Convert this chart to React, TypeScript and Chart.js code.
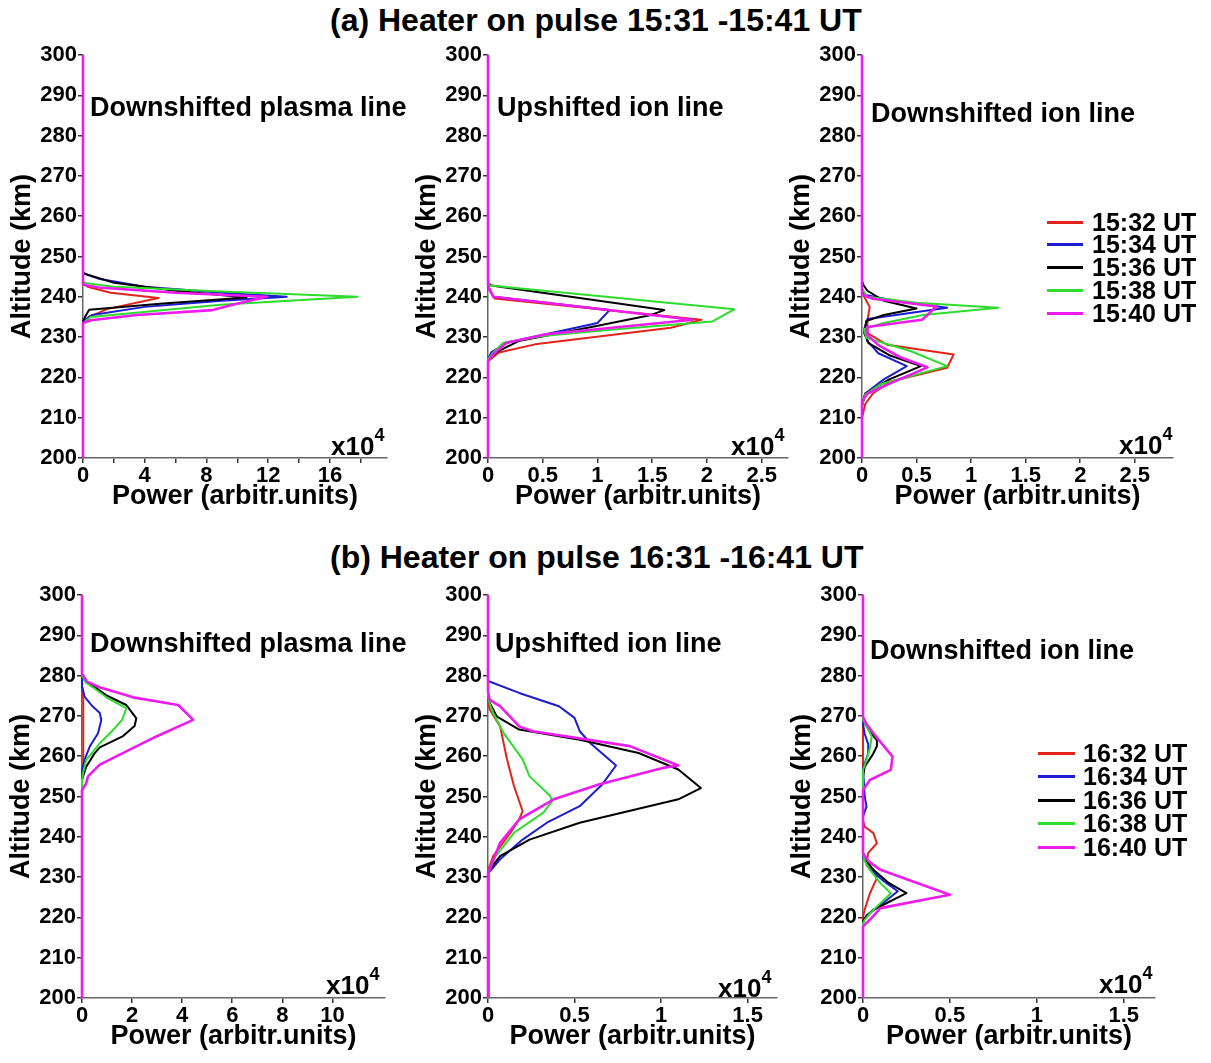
import React, { useEffect, useRef } from 'react';
import { Chart, registerables } from 'chart.js';

Chart.register(...registerables);

const FONT = "'Liberation Sans', Arial, Helvetica, sans-serif";

// ---------- labels / colours ----------
const HEADING_A = '(a) Heater on pulse 15:31 -15:41 UT';
const HEADING_B = '(b) Heater on pulse 16:31 -16:41 UT';
const TITLE_DPL = 'Downshifted plasma line';
const TITLE_UIL = 'Upshifted ion line';
const TITLE_DIL = 'Downshifted ion line';
const Y_TITLE = 'Altitude (km)';
const X_TITLE = 'Power (arbitr.units)';

const LABELS_A = ['15:32 UT', '15:34 UT', '15:36 UT', '15:38 UT', '15:40 UT'];
const LABELS_B = ['16:32 UT', '16:34 UT', '16:36 UT', '16:38 UT', '16:40 UT'];
const COLORS = ['#e2231a', '#1c1cd2', '#000000', '#2edc2e', '#ee1bee'];
const WIDTHS = [2, 2, 2, 2, 2.6];
const ORDERS = [4, 3, 2, 1, 0];

// ---------- axis ticks ----------
const ALT_MIN = 200;
const ALT_MAX = 300;
const ALT_STEP = 10;

const X_TICKS_A1 = [0, 2, 4, 6, 8, 10, 12, 14, 16, 18];
const X_LABELS_A1 = [0, 4, 8, 12, 16];
const X_TICKS_A2 = [0, 0.5, 1, 1.5, 2, 2.5];
const X_TICKS_A3 = [0, 0.5, 1, 1.5, 2, 2.5];
const X_TICKS_B1 = [0, 2, 4, 6, 8, 10];
const X_TICKS_B2 = [0, 0.5, 1, 1.5];
const X_TICKS_B3 = [0, 0.5, 1, 1.5];

const X_MAX_A1 = 19.7;
const X_MAX_A2 = 2.74;
const X_MAX_A3 = 2.85;
const X_MAX_B1 = 12.1;
const X_MAX_B2 = 1.67;
const X_MAX_B3 = 1.68;

// ---------- data: [altitude km, power x10^4] ----------
// (a) Downshifted plasma line
const a_dpl_1532: [number, number][] = [[200, 0], [233.5, 0], [235, 0.4], [237, 1.6], [239.7, 4.9], [241, 1.8], [242.5, 0.3], [243.5, 0], [300, 0]];
const a_dpl_1534: [number, number][] = [[200, 0], [234, 0], [235.5, 0.6], [237.5, 4], [239, 9], [240, 13.2], [241, 9], [242.5, 4], [244.5, 1], [245.8, 0], [300, 0]];
const a_dpl_1536: [number, number][] = [[200, 0], [234, 0], [235.5, 0.2], [236.8, 0.4], [238.3, 5], [239.8, 10.6], [241.5, 6], [243.5, 2], [245.5, 0.3], [246, 0], [300, 0]];
const a_dpl_1538: [number, number][] = [[200, 0], [233.5, 0], [235, 0.5], [238, 8.9], [240, 17.8], [241.3, 9], [242.5, 2], [243.5, 0], [300, 0]];
const a_dpl_1540: [number, number][] = [[200, 0], [233.5, 0], [234.2, 0.5], [235.5, 3.5], [236.7, 8.4], [238, 9.7], [240, 11.9], [241, 6], [242.3, 1], [243, 0], [300, 0]];

// (a) Upshifted ion line
const a_uil_1532: [number, number][] = [[200, 0], [224, 0], [226.2, 0.1], [228.2, 0.43], [232.3, 1.67], [234.3, 1.95], [239.6, 0.06], [241.5, 0.02], [243, 0], [300, 0]];
const a_uil_1534: [number, number][] = [[200, 0], [224.5, 0], [226.2, 0.03], [228.6, 0.17], [231, 0.58], [233.5, 1.0], [236.7, 1.11], [240, 0.05], [242.5, 0], [300, 0]];
const a_uil_1536: [number, number][] = [[200, 0], [224, 0], [225, 0.02], [226.6, 0.1], [229, 0.28], [232.7, 0.98], [235.5, 1.49], [236.7, 1.61], [242.8, 0.03], [243.5, 0], [300, 0]];
const a_uil_1538: [number, number][] = [[200, 0], [224.5, 0], [226.2, 0.05], [228.6, 0.14], [230.3, 0.5], [232, 1.2], [233.9, 2.05], [236.9, 2.25], [242.8, 0.02], [243.5, 0], [300, 0]];
const a_uil_1540: [number, number][] = [[200, 0], [224, 0], [225.8, 0.05], [228.6, 0.17], [230.7, 0.53], [234.3, 1.87], [240, 0.05], [242, 0.01], [243, 0], [300, 0]];

// (a) Downshifted ion line
const a_dil_1532: [number, number][] = [[200, 0], [210, 0], [213.4, 0.03], [216, 0.1], [219, 0.26], [222.4, 0.78], [225.7, 0.84], [228.1, 0.23], [231, 0.05], [234, 0.05], [237.5, 0.07], [240, 0.02], [242, 0], [300, 0]];
const a_dil_1534: [number, number][] = [[200, 0], [213, 0], [216, 0.03], [219.5, 0.2], [222.8, 0.41], [226, 0.15], [229, 0.05], [232, 0.02], [234.5, 0.05], [237.3, 0.78], [239, 0.3], [240.5, 0.02], [242, 0], [300, 0]];
const a_dil_1536: [number, number][] = [[200, 0], [213, 0], [216, 0.03], [219.5, 0.25], [222.8, 0.54], [225.5, 0.25], [228.5, 0.06], [231, 0.02], [234, 0.04], [235.5, 0.2], [237.1, 0.5], [239, 0.2], [241.5, 0.05], [243, 0.01], [244, 0], [300, 0]];
const a_dil_1538: [number, number][] = [[200, 0], [213, 0], [215.8, 0.03], [218.3, 0.17], [222.8, 0.78], [226.5, 0.45], [229.8, 0.04], [232, 0.02], [233.5, 0.2], [235.5, 0.56], [237.3, 1.25], [238.5, 0.5], [240, 0.05], [242, 0], [300, 0]];
const a_dil_1540: [number, number][] = [[200, 0], [214, 0], [216, 0.05], [219, 0.3], [222.5, 0.6], [225, 0.35], [228, 0.15], [230.5, 0.05], [232.5, 0.05], [234.3, 0.55], [235.5, 0.6], [237.6, 0.68], [239.5, 0.1], [240.5, 0], [300, 0]];

// (b) Downshifted plasma line
const b_dpl_1632: [number, number][] = [[200, 0], [257, 0], [258.5, 0.05], [274, 0.05], [276, 0], [300, 0]];
const b_dpl_1634: [number, number][] = [[200, 0], [256, 0], [257.4, 0.04], [259.1, 0.1], [262.4, 0.31], [265.7, 0.64], [269, 0.77], [270.7, 0.71], [272.5, 0.4], [274.8, 0.1], [277, 0.02], [280, 0], [300, 0]];
const b_dpl_1636: [number, number][] = [[200, 0], [254, 0], [255, 0.04], [257.4, 0.17], [260.7, 0.5], [262.2, 0.71], [265, 1.64], [267.5, 2.1], [269.4, 2.17], [272.7, 1.77], [275, 1.0], [277.2, 0.5], [278.5, 0.15], [280, 0], [300, 0]];
const b_dpl_1638: [number, number][] = [[200, 0], [254, 0], [255.8, 0.04], [259.1, 0.17], [263.2, 0.71], [266.5, 1.24], [269, 1.6], [271.9, 1.77], [274.5, 1.0], [276.8, 0.5], [278.3, 0.15], [280, 0], [300, 0]];
const b_dpl_1640: [number, number][] = [[200, 0], [251.5, 0], [253.3, 0.17], [255, 0.24], [257.9, 0.71], [261.2, 1.77], [264.9, 2.97], [269, 4.44], [272.7, 3.84], [274.6, 2.04], [277.1, 0.7], [278.5, 0.2], [280.5, 0], [300, 0]];

// (b) Upshifted ion line
const b_uil_1632: [number, number][] = [[200, 0], [231, 0], [231.9, 0.005], [235.2, 0.03], [241, 0.13], [244.3, 0.18], [246.4, 0.2], [252.6, 0.15], [259.2, 0.11], [267.4, 0.07], [271.6, 0.01], [274, 0], [300, 0]];
const b_uil_1634: [number, number][] = [[200, 0], [230.5, 0], [231, 0.005], [234.4, 0.07], [239.3, 0.2], [243.5, 0.34], [247.6, 0.53], [253, 0.66], [257.7, 0.74], [263.3, 0.59], [266.2, 0.53], [269.5, 0.5], [272.4, 0.41], [275.7, 0.18], [278.6, 0.004], [279.5, 0], [300, 0]];
const b_uil_1636: [number, number][] = [[200, 0], [231, 0], [231.9, 0.01], [235.2, 0.07], [239.3, 0.24], [243.5, 0.53], [249.3, 1.1], [252.1, 1.23], [256.7, 1.1], [260.8, 0.87], [264.1, 0.53], [266.6, 0.18], [269.9, 0.05], [273.2, 0.01], [275, 0], [300, 0]];
const b_uil_1638: [number, number][] = [[200, 0], [230.5, 0], [231, 0.005], [234.4, 0.03], [241, 0.15], [246, 0.32], [248.8, 0.37], [250.1, 0.36], [255, 0.24], [259.2, 0.2], [265.8, 0.09], [270.7, 0.03], [273, 0.01], [275, 0], [300, 0]];
const b_uil_1640: [number, number][] = [[200, 0], [231, 0], [231.9, 0.01], [238.5, 0.07], [244.3, 0.18], [249.3, 0.38], [253, 0.64], [257.1, 1.01], [257.7, 1.1], [262.5, 0.82], [266.2, 0.26], [267.4, 0.18], [272.4, 0.07], [274, 0.01], [276, 0], [300, 0]];

// (b) Downshifted ion line
const b_dil_1632: [number, number][] = [[200, 0], [220, 0], [222, 0.01], [226, 0.04], [229.8, 0.08], [233, 0.02], [236, 0.03], [238.4, 0.08], [240.9, 0.06], [242.5, 0.01], [244, 0], [300, 0]];
const b_dil_1634: [number, number][] = [[200, 0], [219, 0], [220.5, 0.02], [223, 0.1], [226.5, 0.2], [229, 0.12], [232, 0.04], [235, 0], [245, 0], [247.5, 0.02], [250, 0.01], [257, 0], [260.7, 0.03], [263, 0.03], [265.5, 0.01], [268, 0], [300, 0]];
const b_dil_1636: [number, number][] = [[200, 0], [219, 0], [219.8, 0.01], [221.9, 0.06], [226, 0.25], [228.5, 0.15], [231.8, 0.06], [234, 0.02], [236, 0], [255, 0], [257.4, 0.01], [260.7, 0.06], [262.5, 0.08], [264, 0.08], [266, 0.04], [269, 0], [300, 0]];
const b_dil_1638: [number, number][] = [[200, 0], [218.5, 0], [219.4, 0.01], [221, 0.04], [226, 0.16], [228.5, 0.1], [231.8, 0.04], [234, 0.01], [236, 0], [256.5, 0], [259.1, 0.02], [262, 0.04], [264.9, 0.05], [267.5, 0.02], [269, 0], [300, 0]];
const b_dil_1640: [number, number][] = [[200, 0], [217.8, 0], [219.4, 0.04], [222.3, 0.1], [225.6, 0.5], [231.8, 0.1], [234, 0.03], [235.9, 0], [251.6, 0], [254.1, 0.04], [256.6, 0.16], [259.9, 0.17], [262.5, 0.12], [265.7, 0.06], [268, 0.02], [269.8, 0], [300, 0]];

// ---------- layout ----------
const Y_AXIS_W = 82;
const X_AXIS_H = 58;
const PAD_TOP = 20;
const PAD_RIGHT = 10;
const PLOT_H = 403;

type PanelCfg = {
  plotLeft: number;
  plotTop: number;
  plotW: number;
  xMax: number;
  xTicks: number[];
  xLabels: number[];
  series: [number, number][][];
  labels: string[];
};

const fmt = (v: number) => String(Math.round(v * 100) / 100);

function Panel({ cfg }: { cfg: PanelCfg }) {
  const ref = useRef<HTMLCanvasElement | null>(null);
  const width = Y_AXIS_W + cfg.plotW + PAD_RIGHT;
  const height = PAD_TOP + PLOT_H + X_AXIS_H;
  useEffect(() => {
    if (!ref.current) return;
    const tickFont = { family: FONT, size: 22, weight: 'bold' as const };
    const titleFont = { family: FONT, size: 27, weight: 'bold' as const, lineHeight: 1.2 };
    const chart = new Chart(ref.current, {
      type: 'scatter',
      data: {
        datasets: cfg.series.map((s, i) => ({
          label: cfg.labels[i],
          data: s.map(([alt, p]) => ({ x: p, y: alt })),
          showLine: true,
          borderColor: COLORS[i],
          backgroundColor: COLORS[i],
          borderWidth: WIDTHS[i],
          borderJoinStyle: 'round' as const,
          pointRadius: 0,
          pointHoverRadius: 0,
          tension: 0,
          clip: false as any,
          order: ORDERS[i],
        })),
      },
      options: {
        responsive: false,
        animation: false,
        devicePixelRatio: 1,
        events: [],
        layout: { padding: { top: PAD_TOP, right: PAD_RIGHT, left: 0, bottom: 0 } },
        plugins: { legend: { display: false }, tooltip: { enabled: false }, title: { display: false } },
        scales: {
          x: {
            type: 'linear',
            min: 0,
            max: cfg.xMax,
            afterBuildTicks: (scale: any) => {
              scale.ticks = cfg.xTicks.map((v) => ({ value: v }));
            },
            afterFit: (scale: any) => {
              scale.height = X_AXIS_H;
            },
            ticks: {
              autoSkip: false,
              maxRotation: 0,
              minRotation: 0,
              padding: 0,
              color: '#000',
              font: tickFont,
              callback: (v: any) => (cfg.xLabels.some((l) => Math.abs(l - Number(v)) < 1e-9) ? fmt(Number(v)) : ''),
            },
            grid: { drawOnChartArea: false, drawTicks: true, tickLength: 5, color: '#333', lineWidth: 1.5 },
            border: { display: true, color: '#666', width: 1.5 },
            title: { display: true, text: X_TITLE, color: '#000', font: titleFont, padding: { top: 0, bottom: 3 } },
          },
          y: {
            type: 'linear',
            min: ALT_MIN,
            max: ALT_MAX,
            afterFit: (scale: any) => {
              scale.width = Y_AXIS_W;
            },
            ticks: { stepSize: ALT_STEP, padding: 1, color: '#000', font: tickFont, autoSkip: false },
            grid: { drawOnChartArea: false, drawTicks: true, tickLength: 5, color: '#333', lineWidth: 1.5 },
            border: { display: true, color: '#666', width: 1.5 },
            title: { display: true, text: Y_TITLE, color: '#000', font: titleFont, padding: { top: 5, bottom: 0 } },
          },
        },
      },
    } as any);
    return () => chart.destroy();
  }, [cfg]);
  return (
    <canvas
      ref={ref}
      width={width}
      height={height}
      style={{ position: 'absolute', left: cfg.plotLeft - Y_AXIS_W, top: cfg.plotTop - PAD_TOP, width, height }}
    />
  );
}

const PANELS: PanelCfg[] = [
  { plotLeft: 83, plotTop: 55, plotW: 304, xMax: X_MAX_A1, xTicks: X_TICKS_A1, xLabels: X_LABELS_A1, series: [a_dpl_1532, a_dpl_1534, a_dpl_1536, a_dpl_1538, a_dpl_1540], labels: LABELS_A },
  { plotLeft: 488, plotTop: 55, plotW: 300, xMax: X_MAX_A2, xTicks: X_TICKS_A2, xLabels: X_TICKS_A2, series: [a_uil_1532, a_uil_1534, a_uil_1536, a_uil_1538, a_uil_1540], labels: LABELS_A },
  { plotLeft: 862, plotTop: 55, plotW: 311, xMax: X_MAX_A3, xTicks: X_TICKS_A3, xLabels: X_TICKS_A3, series: [a_dil_1532, a_dil_1534, a_dil_1536, a_dil_1538, a_dil_1540], labels: LABELS_A },
  { plotLeft: 82, plotTop: 595, plotW: 303, xMax: X_MAX_B1, xTicks: X_TICKS_B1, xLabels: X_TICKS_B1, series: [b_dpl_1632, b_dpl_1634, b_dpl_1636, b_dpl_1638, b_dpl_1640], labels: LABELS_B },
  { plotLeft: 488, plotTop: 595, plotW: 289, xMax: X_MAX_B2, xTicks: X_TICKS_B2, xLabels: X_TICKS_B2, series: [b_uil_1632, b_uil_1634, b_uil_1636, b_uil_1638, b_uil_1640], labels: LABELS_B },
  { plotLeft: 863, plotTop: 595, plotW: 292, xMax: X_MAX_B3, xTicks: X_TICKS_B3, xLabels: X_TICKS_B3, series: [b_dil_1632, b_dil_1634, b_dil_1636, b_dil_1638, b_dil_1640], labels: LABELS_B },
];

const PANEL_TITLES = [
  { text: TITLE_DPL, left: 90, top: 94 },
  { text: TITLE_UIL, left: 497, top: 94 },
  { text: TITLE_DIL, left: 871, top: 100 },
  { text: TITLE_DPL, left: 90, top: 630 },
  { text: TITLE_UIL, left: 495, top: 630 },
  { text: TITLE_DIL, left: 870, top: 637 },
];

const EXPONENTS = [
  { left: 331, top: 433 },
  { left: 731, top: 433 },
  { left: 1119, top: 432 },
  { left: 326, top: 972 },
  { left: 718, top: 975 },
  { left: 1099, top: 971 },
];

const LEGENDS = [
  { labels: LABELS_A, lineLeft: 1047, lineW: 36, textLeft: 1092, firstCenter: 222, step: 22.8 },
  { labels: LABELS_B, lineLeft: 1038, lineW: 37, textLeft: 1083, firstCenter: 753, step: 23.5 },
];

const textBase: React.CSSProperties = {
  position: 'absolute',
  fontFamily: FONT,
  fontWeight: 'bold',
  color: '#000',
  whiteSpace: 'nowrap',
  lineHeight: 1,
  margin: 0,
};

export default function App() {
  return (
    <div style={{ position: 'absolute', left: 0, top: 0, width: 1211, height: 1063, background: '#fff', overflow: 'hidden' }}>
      <div style={{ ...textBase, left: 330, top: 4, fontSize: 32 }}>{HEADING_A}</div>
      <div style={{ ...textBase, left: 330, top: 541, fontSize: 32 }}>{HEADING_B}</div>
      {PANELS.map((p, i) => (
        <Panel key={i} cfg={p} />
      ))}
      {PANEL_TITLES.map((t, i) => (
        <div key={'t' + i} style={{ ...textBase, left: t.left, top: t.top, fontSize: 27 }}>{t.text}</div>
      ))}
      {EXPONENTS.map((e, i) => (
        <div key={'e' + i} style={{ ...textBase, left: e.left, top: e.top, fontSize: 26 }}>
          x10<span style={{ fontSize: 18, position: 'relative', top: -14 }}>4</span>
        </div>
      ))}
      {LEGENDS.map((lg, li) =>
        lg.labels.map((lab, i) => {
          const c = lg.firstCenter + i * lg.step;
          return (
            <React.Fragment key={'l' + li + '_' + i}>
              <div style={{ position: 'absolute', left: lg.lineLeft, top: c - 1.5, width: lg.lineW, height: 3, background: COLORS[i] }} />
              <div style={{ ...textBase, left: lg.textLeft, top: c - 12.5, height: 25, lineHeight: '25px', fontSize: 25 }}>{lab}</div>
            </React.Fragment>
          );
        })
      )}
    </div>
  );
}
